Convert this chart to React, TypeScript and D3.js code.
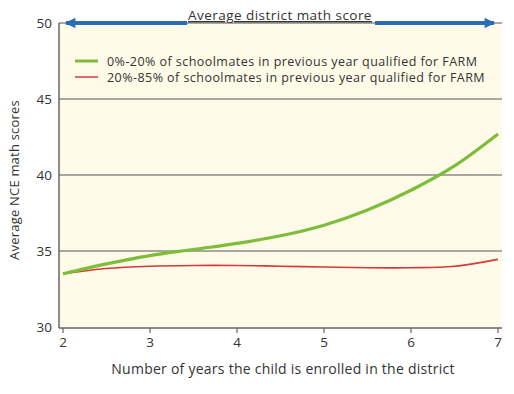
import * as d3 from 'd3'

const years = [2, 2.5, 3, 3.5, 4, 4.5, 5, 5.5, 6, 6.5, 7]
const lowFarm = [33.5, 34.15, 34.7, 35.1, 35.5, 36.0, 36.7, 37.7, 39.0, 40.6, 42.7]
const highFarm = [33.5, 33.85, 34.0, 34.05, 34.05, 34.0, 33.95, 33.9, 33.9, 34.0, 34.45]
const xTicks = [2, 3, 4, 5, 6, 7]
const yTicks = [30, 35, 40, 45, 50]
const legendLabels = [
  '0%-20% of schoolmates in previous year qualified for FARM',
  '20%-85% of schoolmates in previous year qualified for FARM',
]
const colors = ['#7dbd3a', '#d8383a']

const W = 514
const H = 394
const font = "'Open Sans', 'DejaVu Sans', sans-serif"

export default function App() {
  const left = 59
  const right = 502
  const top = 23
  const bottom = 327

  const x = d3.scaleLinear().domain([2, 7]).range([63, 498])
  const y = d3.scaleLinear().domain([30, 50]).range([bottom, top])

  const line = d3.line<number>()
    .x((_, i) => x(years[i]))
    .y(d => y(d))
    .curve(d3.curveCatmullRom)

  const arrowY = y(50)

  return (
    <svg width={W} height={H} style={{ position: 'absolute', left: 0, top: 0, background: '#fff' }} fontFamily={font}>
      <defs>
        <marker id="ah" viewBox="0 0 10 10" refX="9" refY="5" markerWidth="3.2" markerHeight="2.6" orient="auto-start-reverse" markerUnits="strokeWidth">
          <path d="M0,0 L10,5 L0,10 z" fill="#2a6cb3" />
        </marker>
      </defs>
      <rect x={left} y={top} width={right - left} height={bottom - top} fill="#fffbe8" />

      {yTicks.map(t => (
        <g key={t}>
          {t !== 30 && <line x1={left} x2={right} y1={y(t)} y2={y(t)} stroke="#555" strokeWidth={1.2} />}
          <text x={52} y={y(t)} dy="0.36em" textAnchor="end" fontSize={13.5} fill="#333">{t}</text>
        </g>
      ))}

      <line x1={left} x2={left} y1={top} y2={bottom + 1} stroke="#666" strokeWidth={1.5} />
      <line x1={left} x2={right} y1={bottom + 1} y2={bottom + 1} stroke="#666" strokeWidth={1.5} />

      {xTicks.map(t => (
        <g key={t}>
          <line x1={x(t)} x2={x(t)} y1={bottom + 1} y2={bottom + 6} stroke="#666" strokeWidth={1.2} />
          <text x={x(t)} y={347} textAnchor="middle" fontSize={13.5} fill="#333">{t}</text>
        </g>
      ))}

      <text x={283} y={374} textAnchor="middle" fontSize={14} letterSpacing={0.25} fill="#333">
        Number of years the child is enrolled in the district
      </text>
      <text transform={`translate(19,${(top + bottom) / 2 + 5}) rotate(-90)`} textAnchor="middle" fontSize={13} letterSpacing={0.2} fill="#333">
        Average NCE math scores
      </text>

      {/* district average arrow */}
      <line x1={187} x2={66} y1={arrowY} y2={arrowY} stroke="#2a6cb3" strokeWidth={4} markerEnd="url(#ah)" />
      <line x1={375} x2={494} y1={arrowY} y2={arrowY} stroke="#2a6cb3" strokeWidth={4} markerEnd="url(#ah)" />
      <text x={280} y={20} textAnchor="middle" fontSize={13.5} letterSpacing={0.45} fill="#333" textDecoration="underline">
        Average district math score
      </text>

      {legendLabels.map((lab, i) => (
        <g key={lab} transform={`translate(0,${61 + i * 16})`}>
          <line x1={75} x2={98} y1={0} y2={0} stroke={colors[i]} strokeWidth={i === 0 ? 3 : 1.5} />
          <text x={107} y={0} dy="0.36em" fontSize={12.5} letterSpacing={0.45} fill="#333">{lab}</text>
        </g>
      ))}

      <path d={line(highFarm) || ''} fill="none" stroke={colors[1]} strokeWidth={1.6} />
      <path d={line(lowFarm) || ''} fill="none" stroke={colors[0]} strokeWidth={3.2} />
    </svg>
  )
}
